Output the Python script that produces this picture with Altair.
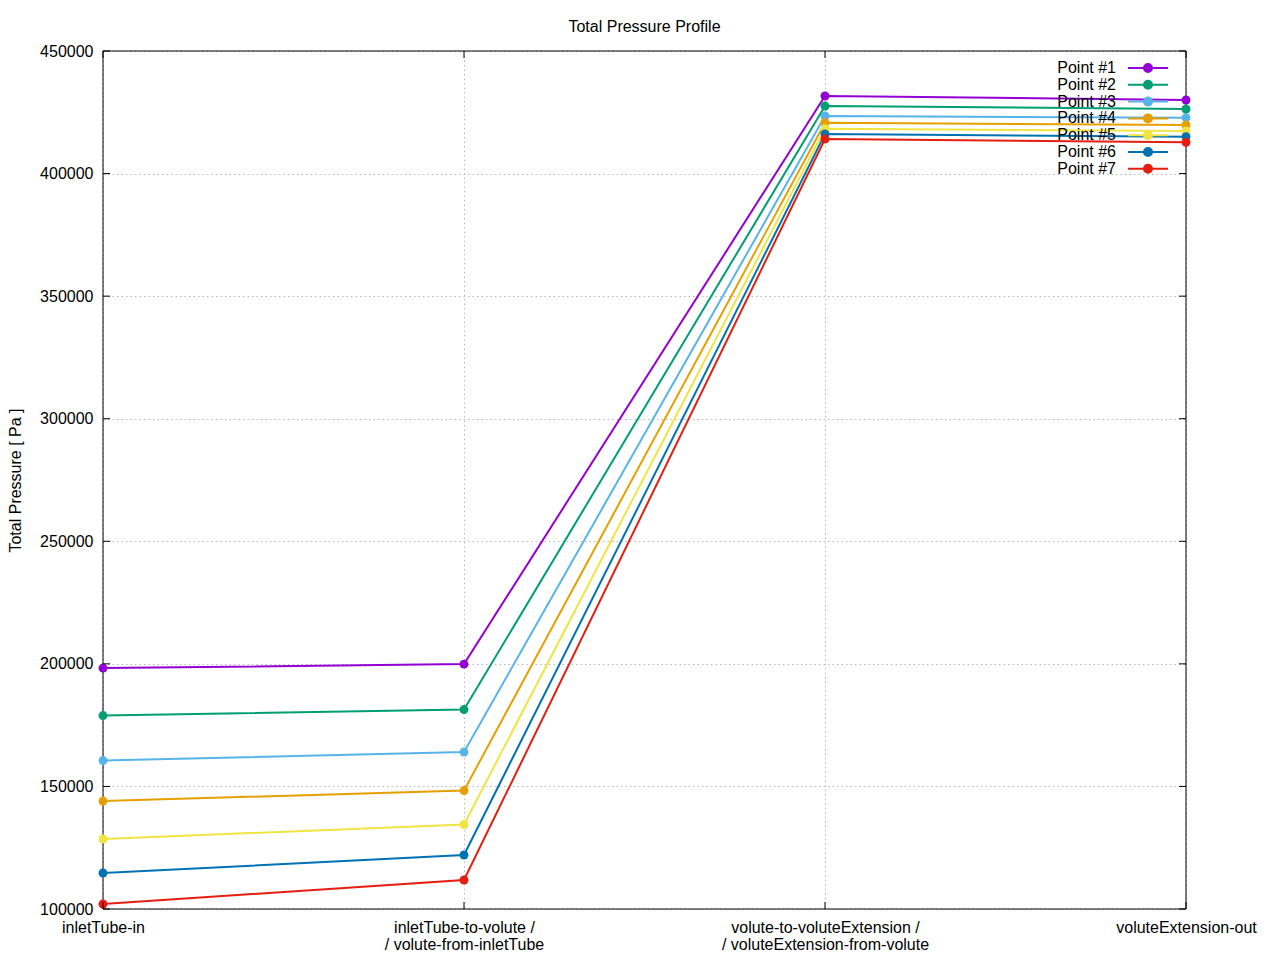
import altair as alt
import pandas as pd

locations = [
    "inletTube-in",
    "inletTube-to-volute /\n/ volute-from-inletTube",
    "volute-to-voluteExtension /\n/ voluteExtension-from-volute",
    "voluteExtension-out",
]
series = ["Point #1", "Point #2", "Point #3", "Point #4", "Point #5", "Point #6", "Point #7"]
p1 = [198280, 199900, 431650, 430020]
p2 = [178900, 181360, 427570, 426350]
p3 = [160560, 164020, 423490, 422800]
p4 = [144040, 148320, 420760, 419820]
p5 = [128550, 134460, 418310, 417380]
p6 = [114680, 122020, 416150, 415050]
p7 = [102040, 111830, 414110, 412770]
colors = ["#9400d3", "#009e73", "#56b4e9", "#e69f00", "#f0e442", "#0072b2", "#e51e10"]
y_ticks = [100000, 150000, 200000, 250000, 300000, 350000, 400000, 450000]

values = [p1, p2, p3, p4, p5, p6, p7]
rows = []
for name, vals in zip(series, values):
    for i, (loc, v) in enumerate(zip(locations, vals)):
        rows.append({"series": name, "loc": loc, "order": i, "value": v})
df = pd.DataFrame(rows)
ytick_df = pd.DataFrame({"value": y_ticks})
xtick_df = pd.DataFrame({"loc": locations})
frame_df = pd.DataFrame({"side": ["frame"]})

W, H = 1083, 858
FONT = "Liberation Sans"

x_scale = alt.Scale(type="point", padding=0, domain=locations)
x_axis = alt.Axis(
    title=None,
    labelAngle=0,
    labelExpr="split(datum.label, '\\n')",
    labelFontSize=16,
    labelLineHeight=17,
    labelPadding=10,
    labelBaseline="top",
    labelColor="#000000",
    labelLimit=0,
    ticks=False,
    domain=False,
    grid=True,
    gridColor="#b8b8b8",
    gridDash=[1.5, 3],
    gridWidth=1,
    labelFont=FONT,
)
y_scale = alt.Scale(domain=[100000, 450000], nice=False, zero=False)
y_axis = alt.Axis(
    title="Total Pressure [ Pa ]",
    titleFontSize=16,
    titleFontWeight="normal",
    titleFont=FONT,
    titleColor="#000000",
    titlePadding=16,
    values=y_ticks,
    format="d",
    labelFontSize=16,
    labelFont=FONT,
    labelColor="#000000",
    labelPadding=10,
    ticks=False,
    domain=False,
    grid=True,
    gridColor="#b8b8b8",
    gridDash=[1.5, 3],
    gridWidth=1,
)
x_enc = alt.X("loc:N", sort=locations, scale=x_scale, axis=x_axis)
y_enc = alt.Y("value:Q", scale=y_scale, axis=y_axis)

legend_path = "M-5,0H5M1,0A1,1,0,1,1,-1,0A1,1,0,1,1,1,0Z"
color_enc = alt.Color(
    "series:N",
    scale=alt.Scale(domain=series, range=colors),
    legend=alt.Legend(
        orient="none",
        legendX=1037,
        legendY=9,
        title=None,
        symbolType=legend_path,
        symbolSize=64,
        symbolStrokeWidth=2,
        labelAlign="right",
        labelOffset={"expr": "-40"},
        labelFontSize=16,
        labelFont=FONT,
        labelColor="#000000",
        rowPadding=0.8,
        padding=0,
        labelLimit=0,
    ),
)

lines = alt.Chart(df).mark_line(strokeWidth=2).encode(
    x=x_enc, y=y_enc, color=color_enc, order="order:Q"
)
points = alt.Chart(df).mark_point(filled=True, size=80, opacity=1).encode(
    x=x_enc, y=y_enc, color=color_enc
)

tick_len = 7
yticks_left = alt.Chart(ytick_df).mark_rule(color="black", strokeWidth=1).encode(
    y=y_enc, x=alt.value(0), x2=alt.value(tick_len)
)
yticks_right = alt.Chart(ytick_df).mark_rule(color="black", strokeWidth=1).encode(
    y=y_enc, x=alt.value(W - tick_len), x2=alt.value(W)
)
xticks_bottom = alt.Chart(xtick_df).mark_rule(color="black", strokeWidth=1).encode(
    x=x_enc, y=alt.value(H - tick_len), y2=alt.value(H)
)
xticks_top = alt.Chart(xtick_df).mark_rule(color="black", strokeWidth=1).encode(
    x=x_enc, y=alt.value(0), y2=alt.value(tick_len)
)
frame = alt.Chart(frame_df).mark_rect(
    fill=None, fillOpacity=0, stroke="black", strokeWidth=1
).encode(
    x=alt.value(0), x2=alt.value(W), y=alt.value(0), y2=alt.value(H)
)

chart = (
    alt.layer(frame, lines, points, yticks_left, yticks_right, xticks_bottom, xticks_top)
    .properties(
        width=W,
        height=H,
        title=alt.Title(
            "Total Pressure Profile",
            fontSize=16,
            fontWeight="normal",
            font=FONT,
            color="#000000",
            anchor="middle",
            frame="group",
            baseline="bottom",
            offset=17,
            dy=25,
        ),
        autosize=alt.AutoSizeParams(type="none"),
        padding={"left": 95, "top": 43, "right": 78, "bottom": 45},
    )
    .configure(font=FONT)
    .configure_view(stroke=None)
)

chart.save("out.html", embed_options={"renderer": "svg", "actions": False})
